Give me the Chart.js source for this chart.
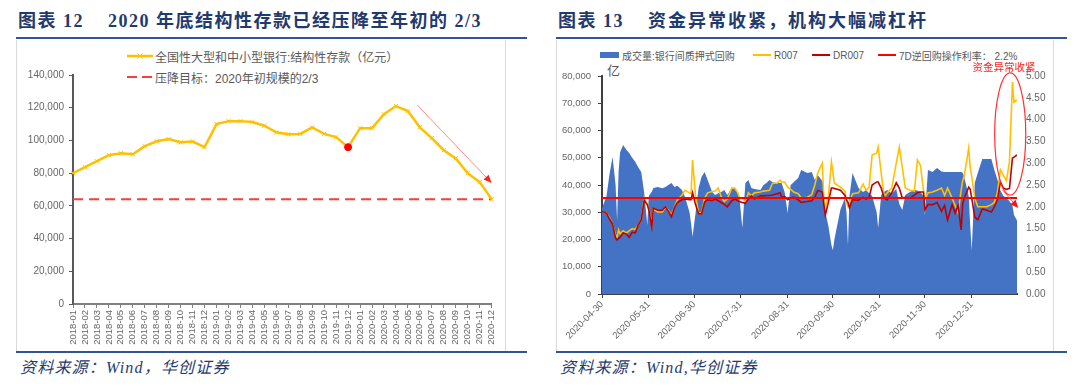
<!DOCTYPE html>
<html>
<head>
<meta charset="utf-8">
<script src="https://cdn.jsdelivr.net/npm/chart.js@4.4.0/dist/chart.umd.min.js"></script>
<style>
  body { margin: 0; background: #fff; width: 1080px; height: 386px; position: relative; overflow: hidden;
         font-family: "Liberation Sans", "Noto Sans CJK SC", sans-serif; }
  .title { position: absolute; top: 10px; line-height: 22px; font: bold 18px/22px "Liberation Serif", "Noto Sans CJK SC", serif;
           color: #1F3A6E; letter-spacing: 1.5px; white-space: nowrap; }
  .rule { position: absolute; height: 2px; background: #2F5597; }
  .box { position: absolute; top: 40px; height: 311px; border-left: 1px solid #D9D9D9; border-right: 1px solid #D9D9D9; }
  .src { position: absolute; top: 358px; font: italic 16px/20px "Liberation Serif", "Noto Sans CJK SC", serif;
         color: #1F3A6E; letter-spacing: 1.2px; white-space: nowrap; }
  .lg { position: absolute; color: #595959; white-space: nowrap; display: flex; align-items: center; }
  .lg svg { margin-right: 2px; }
  canvas { position: absolute; }
</style>
</head>
<body>

<div class="title" style="left:18px">图表 12</div>
<div class="title" style="left:108px">2020 年底结构性存款已经压降至年初的 2/3</div>
<div class="rule" style="left:16px; top:37px; width:511px"></div>
<div class="box" style="left:16px; width:488px"></div>
<div class="rule" style="left:16px; top:351px; width:511px"></div>
<div class="src" style="left:20px">资料来源：Wind，华创证券</div>

<div class="title" style="left:558px">图表 13</div>
<div class="title" style="left:648px; letter-spacing:2px">资金异常收紧，机构大幅减杠杆</div>
<div class="rule" style="left:556px; top:37px; width:511px"></div>
<div class="box" style="left:556px; width:496px"></div>
<div class="rule" style="left:556px; top:351px; width:511px"></div>
<div class="src" style="left:560px">资料来源：Wind,华创证券</div>

<!-- legend, left chart -->
<div class="lg" style="left:127px; top:48px; font-size:12px; height:16px">
  <svg width="26" height="10"><line x1="0" y1="5" x2="26" y2="5" stroke="#FFC000" stroke-width="2.5"/>
    <path d="M10.5 2.5 L15.5 7.5 M15.5 2.5 L10.5 7.5" stroke="#FFC000" stroke-width="1"/></svg>
  全国性大型和中小型银行:结构性存款（亿元）
</div>
<div class="lg" style="left:127px; top:69px; font-size:12px; height:16px">
  <svg width="26" height="10"><line x1="0" y1="5" x2="26" y2="5" stroke="#FF3B3B" stroke-width="2" stroke-dasharray="10 5"/></svg>
  压降目标：2020年初规模的2/3
</div>

<!-- legend, right chart -->
<div class="lg" style="left:600px; top:48px; font-size:10px; height:14px">
  <svg width="20" height="8"><rect x="0" y="1" width="19" height="6" fill="#4472C4"/></svg>成交量:银行间质押式回购
</div>
<div class="lg" style="left:753px; top:48px; font-size:10px; height:14px">
  <svg width="19" height="8"><line x1="0" y1="4" x2="18" y2="4" stroke="#FFC000" stroke-width="2"/></svg>R007
</div>
<div class="lg" style="left:812px; top:48px; font-size:10px; height:14px">
  <svg width="19" height="8"><line x1="0" y1="4" x2="18" y2="4" stroke="#C00000" stroke-width="2"/></svg>DR007
</div>
<div class="lg" style="left:878px; top:48px; font-size:10px; height:14px">
  <svg width="19" height="8"><line x1="0" y1="4" x2="18" y2="4" stroke="#FF0000" stroke-width="2"/></svg>7D逆回购操作利率：&nbsp;2.2%
</div>
<div class="lg" style="left:607px; top:60px; font-size:13px">亿</div>

<canvas id="deposit" width="489" height="310" style="left:16px; top:40px"></canvas>
<canvas id="repo" width="497" height="310" style="left:556px; top:40px"></canvas>

<script>
// ---------- chart 12: structured deposits ----------
const months = [
  '2018-01','2018-02','2018-03','2018-04','2018-05','2018-06','2018-07','2018-08','2018-09','2018-10','2018-11','2018-12',
  '2019-01','2019-02','2019-03','2019-04','2019-05','2019-06','2019-07','2019-08','2019-09','2019-10','2019-11','2019-12',
  '2020-01','2020-02','2020-03','2020-04','2020-05','2020-06','2020-07','2020-08','2020-09','2020-10','2020-11','2020-12'
];
const deposits = [
  80000, 83700, 87300, 91000, 92200, 91600, 96500, 99500, 100800, 98900, 99300, 95900,
  110000, 111800, 111800, 111200, 109000, 105000, 103800, 104000, 108000, 104000, 102000, 95900,
  107500, 107500, 116000, 121000, 118000, 108000, 101400, 94000, 89000, 80000, 74500, 64100
];
const targetLevel = 64000;       // 2/3 of the start-of-2020 scale
const markedMonth = '2019-12';   // red dot
const trendArrow = { from: [28.8, 121500], to: [35, 74000] };   // category index, value

// ---------- chart 13: repo volume & rates ----------
const dates = [
  '2020-04-30','2020-05-03','2020-05-05','2020-05-07','2020-05-09','2020-05-10','2020-05-11','2020-05-12','2020-05-14','2020-05-16',
  '2020-05-18','2020-05-20','2020-05-22','2020-05-24','2020-05-26','2020-05-28','2020-05-30','2020-05-31','2020-06-02','2020-06-03',
  '2020-06-06','2020-06-09','2020-06-11','2020-06-13','2020-06-15','2020-06-17','2020-06-19','2020-06-22','2020-06-24','2020-06-27',
  '2020-06-28','2020-06-29','2020-07-01','2020-07-03','2020-07-05','2020-07-07','2020-07-09','2020-07-12','2020-07-14','2020-07-16',
  '2020-07-18','2020-07-20','2020-07-22','2020-07-25','2020-07-27','2020-07-29','2020-07-30','2020-08-01','2020-08-03','2020-08-05',
  '2020-08-07','2020-08-09','2020-08-13','2020-08-15','2020-08-17','2020-08-19','2020-08-21','2020-08-24','2020-08-26','2020-08-27',
  '2020-08-29','2020-08-31','2020-09-02','2020-09-04','2020-09-07','2020-09-09','2020-09-13','2020-09-16','2020-09-18','2020-09-20',
  '2020-09-23','2020-09-24','2020-09-25','2020-09-27','2020-09-29','2020-09-30','2020-10-01','2020-10-05','2020-10-08','2020-10-09',
  '2020-10-10','2020-10-11','2020-10-13','2020-10-17','2020-10-20','2020-10-22','2020-10-24','2020-10-26','2020-10-29','2020-10-30',
  '2020-11-01','2020-11-03','2020-11-05','2020-11-08','2020-11-11','2020-11-13','2020-11-15','2020-11-17','2020-11-20','2020-11-23',
  '2020-11-25','2020-11-27','2020-11-29','2020-11-30','2020-12-02','2020-12-05','2020-12-08','2020-12-11','2020-12-13','2020-12-15',
  '2020-12-18','2020-12-20','2020-12-22','2020-12-24','2020-12-25','2020-12-26','2020-12-29','2020-12-30','2020-12-31','2021-01-02',
  '2021-01-04','2021-01-07','2021-01-10','2021-01-13','2021-01-15','2021-01-17','2021-01-19','2021-01-21','2021-01-23','2021-01-25',
  '2021-01-27','2021-01-28','2021-01-30'
];
const volume = [
  31500, 36000, 44000, 50300, 40000, 27000, 45000, 52000, 54700, 53000,
  51700, 50000, 48500, 46500, 44800, 37000, 25300, 36000, 37500, 38900,
  39300, 38800, 39300, 40000, 40700, 39300, 39700, 38200, 35600, 30000,
  26000, 21000, 29700, 38900, 43000, 44800, 41800, 37400, 36300, 37000,
  37400, 38200, 36300, 38900, 38500, 37000, 35600, 24200, 40700, 41800,
  38900, 38500, 38200, 40000, 40700, 41800, 41000, 40700, 40700, 40700,
  37400, 29700, 40000, 41000, 42600, 45500, 44400, 44800, 41800, 43700,
  41500, 38000, 30000, 25000, 18000, 16100, 20000, 31000, 35200, 30000,
  18000, 36000, 44400, 38900, 37400, 38200, 37000, 36000, 30000, 24200,
  36300, 37500, 38200, 37000, 38500, 33000, 30800, 36300, 37400, 38200,
  38000, 37400, 36000, 29000, 45500, 44800, 46200, 45000, 44800, 44800,
  44800, 44800, 44800, 44800, 44500, 43000, 36000, 25000, 16100, 40700,
  44400, 49500, 49500, 49500, 45500, 42000, 38000, 36000, 35200, 34000,
  32500, 29000, 27000
];
const r007 = [
  1.90, 1.85, 1.75, 1.60, 1.35, 1.30, 1.47, 1.38, 1.45, 1.40,
  1.45, 1.50, 1.48, 1.58, 1.70, 2.20, 2.05, 1.93, 1.60, 1.95,
  1.88, 1.88, 2.00, 1.92, 1.81, 2.00, 2.16, 2.27, 2.38, 2.32,
  2.30, 3.07, 2.25, 1.86, 1.86, 2.20, 2.32, 2.35, 2.36, 2.43,
  2.23, 2.12, 2.18, 2.43, 2.43, 2.32, 2.22, 2.20, 2.10, 2.32,
  2.25, 2.32, 2.34, 2.36, 2.37, 2.38, 2.54, 2.54, 2.61, 2.57,
  2.57, 2.45, 2.40, 2.34, 2.30, 2.20, 2.22, 2.28, 2.50, 2.78,
  3.00, 2.20, 1.98, 2.22, 3.03, 2.80, 2.54, 2.45, 2.36, 2.10,
  2.00, 2.10, 2.30, 2.32, 2.52, 2.38, 2.45, 3.19, 3.23, 3.37,
  2.78, 2.23, 2.32, 2.43, 3.00, 3.37, 2.90, 2.43, 2.38, 2.36,
  3.07, 2.95, 2.38, 2.16, 2.32, 2.34, 2.38, 2.43, 2.26, 2.43,
  2.20, 2.03, 1.86, 2.38, 2.60, 2.70, 3.35, 2.90, 2.70, 2.20,
  2.00, 2.00, 2.00, 2.05, 2.10, 2.32, 2.85, 2.72, 2.60, 3.03,
  4.86, 4.40, 4.45
];
const dr007 = [
  1.90, 1.85, 1.72, 1.60, 1.28, 1.24, 1.28, 1.30, 1.40, 1.38,
  1.30, 1.42, 1.40, 1.58, 1.70, 2.15, 2.05, 1.93, 1.54, 1.97,
  1.92, 1.92, 2.00, 1.90, 1.77, 1.98, 2.10, 2.16, 2.18, 2.16,
  2.16, 2.32, 2.05, 1.84, 1.84, 2.11, 2.16, 2.14, 2.18, 2.14,
  2.10, 2.06, 2.00, 2.14, 2.18, 2.14, 2.12, 2.10, 2.08, 2.18,
  2.25, 2.18, 2.25, 2.25, 2.26, 2.26, 2.27, 2.30, 2.32, 2.22,
  2.24, 2.16, 2.20, 2.22, 2.16, 2.10, 2.12, 2.14, 2.22, 2.38,
  2.34, 2.05, 1.81, 2.10, 2.43, 2.43, 2.42, 2.38, 2.26, 2.16,
  2.10, 1.98, 2.16, 2.15, 2.22, 2.18, 2.22, 2.50, 2.57, 2.57,
  2.43, 2.20, 2.16, 2.32, 2.55, 2.43, 2.20, 2.22, 2.20, 2.27,
  2.32, 2.34, 2.34, 1.93, 2.05, 2.05, 2.10, 1.90, 2.03, 1.70,
  2.05, 1.86, 2.03, 1.47, 2.07, 2.20, 2.45, 2.40, 2.20, 1.77,
  1.70, 1.95, 1.92, 1.88, 2.00, 2.16, 2.57, 2.43, 2.40, 2.42,
  3.12, 3.14, 3.19
];
const repoRate = 2.2;   // 7D reverse repo rate, %
const tickDates = ['2020-04-30','2020-05-31','2020-06-30','2020-07-31','2020-08-31','2020-09-30','2020-10-31','2020-11-30','2020-12-31'];
const lastDay = 275;
// ellipse around the late-January spike (day offset, rate) and the note arrow
const squeeze = { day: 270.5, rate: 3.67, dDays: 10.3, dRate: 1.40, label: '资金异常收紧', labelAt: [266.4, 5.21] };
const squeezeArrow = { from: [265.3, 2.39], to: [275.8, 1.97] };

// ---------- helpers ----------
Chart.defaults.font.family = '"Liberation Sans", "Noto Sans CJK SC", sans-serif';
Chart.defaults.color = '#666';

const dayOf = d => Math.round((Date.parse(d) - Date.parse(dates[0])) / 86400000);
const fmt = v => v.toLocaleString('en-US');

function drawArrow(ctx, x0, y0, x1, y1, lineColor, headColor, lw) {
  const a = Math.atan2(y1 - y0, x1 - x0), L = 8, W = 3.5;
  const bx = x1 - L * Math.cos(a), by = y1 - L * Math.sin(a);
  ctx.save();
  ctx.strokeStyle = lineColor;
  ctx.lineWidth = lw;
  ctx.beginPath(); ctx.moveTo(x0, y0); ctx.lineTo(bx, by); ctx.stroke();
  ctx.fillStyle = headColor;
  ctx.beginPath();
  ctx.moveTo(x1, y1);
  ctx.lineTo(bx + W * Math.sin(a), by - W * Math.cos(a));
  ctx.lineTo(bx - W * Math.sin(a), by + W * Math.cos(a));
  ctx.closePath(); ctx.fill();
  ctx.restore();
}

const trendArrowPlugin = {
  id: 'trendArrow',
  afterDatasetsDraw(chart) {
    const { ctx, scales: { x, y } } = chart;
    drawArrow(ctx,
      x.getPixelForValue(trendArrow.from[0]), y.getPixelForValue(trendArrow.from[1]),
      x.getPixelForValue(trendArrow.to[0]), y.getPixelForValue(trendArrow.to[1]),
      'rgba(255,120,120,0.85)', '#FF2020', 1);
  }
};

const squeezePlugin = {
  id: 'squeeze',
  afterDatasetsDraw(chart) {
    const { ctx, scales: { x, y1 } } = chart;
    const cx = x.getPixelForValue(squeeze.day), cy = y1.getPixelForValue(squeeze.rate);
    const rx = Math.abs(x.getPixelForValue(squeeze.day + squeeze.dDays) - cx);
    const ry = Math.abs(y1.getPixelForValue(squeeze.rate + squeeze.dRate) - cy);
    ctx.save();
    ctx.strokeStyle = '#FF3030';
    ctx.lineWidth = 1.2;
    ctx.beginPath(); ctx.ellipse(cx, cy, rx, ry, 0, 0, Math.PI * 2); ctx.stroke();
    ctx.fillStyle = '#FF2020';
    ctx.font = '10.5px "Noto Sans CJK SC", sans-serif';
    ctx.textAlign = 'center'; ctx.textBaseline = 'middle';
    ctx.fillText(squeeze.label, x.getPixelForValue(squeeze.labelAt[0]), y1.getPixelForValue(squeeze.labelAt[1]));
    ctx.restore();
    drawArrow(ctx,
      x.getPixelForValue(squeezeArrow.from[0]), y1.getPixelForValue(squeezeArrow.from[1]),
      x.getPixelForValue(squeezeArrow.to[0]), y1.getPixelForValue(squeezeArrow.to[1]),
      'rgba(255,80,80,0.9)', '#FF1010', 1);
  }
};

// ---------- chart 12 ----------
new Chart(document.getElementById('deposit'), {
  type: 'line',
  data: {
    labels: months,
    datasets: [
      {
        data: months.map(m => (m === markedMonth ? deposits[months.indexOf(m)] : null)),
        showLine: false, pointStyle: 'circle', pointRadius: 3.5,
        pointBackgroundColor: '#FF0000', pointBorderColor: '#FF0000', order: 0
      },
      {
        label: '全国性大型和中小型银行:结构性存款（亿元）',
        data: deposits,
        borderColor: '#FFC000', borderWidth: 2.5, tension: 0,
        pointStyle: 'crossRot', pointRadius: 3, pointBorderColor: '#FFC000', pointBorderWidth: 1, order: 1
      },
      {
        label: '压降目标：2020年初规模的2/3',
        data: months.map(() => targetLevel),
        borderColor: '#FF3B3B', borderWidth: 2, borderDash: [10, 6], pointRadius: 0, order: 2
      }
    ]
  },
  options: {
    responsive: false, animation: false,
    layout: { padding: { top: 35, right: 12, left: 0, bottom: 0 } },
    plugins: { legend: { display: false }, tooltip: { enabled: false } },
    scales: {
      x: {
        offset: false,
        ticks: { autoSkip: false, minRotation: 90, maxRotation: 90, font: { size: 9.5 }, padding: 2 },
        grid: { drawOnChartArea: false, drawTicks: true, tickLength: 4, color: '#808080' },
        border: { color: '#808080', width: 2 },
        afterFit: s => { s.height = 46; }
      },
      y: {
        min: 0, max: 140000,
        ticks: { stepSize: 20000, callback: v => fmt(v), font: { size: 10 }, padding: 5 },
        grid: { drawOnChartArea: false, drawTicks: true, tickLength: 4, color: '#595959' },
        border: { color: '#595959', width: 2 },
        afterFit: s => { s.width = 57; }
      }
    }
  },
  plugins: [trendArrowPlugin]
});

// ---------- chart 13 ----------
const pts = arr => dates.map((d, i) => ({ x: dayOf(d), y: arr[i] }));

new Chart(document.getElementById('repo'), {
  type: 'line',
  data: {
    datasets: [
      {
        label: '7D逆回购操作利率：2.2%',
        data: [{ x: 0, y: repoRate }, { x: lastDay, y: repoRate }],
        yAxisID: 'y1', borderColor: '#FF0000', borderWidth: 2, pointRadius: 0, order: 0
      },
      {
        label: 'DR007', data: pts(dr007), yAxisID: 'y1',
        borderColor: '#C00000', borderWidth: 1.6, pointRadius: 0, tension: 0, order: 1
      },
      {
        label: 'R007', data: pts(r007), yAxisID: 'y1',
        borderColor: '#FFC000', borderWidth: 1.6, pointRadius: 0, tension: 0, order: 2
      },
      {
        label: '成交量:银行间质押式回购', data: pts(volume), yAxisID: 'y',
        borderWidth: 0, backgroundColor: '#4472C4', fill: 'origin', pointRadius: 0, tension: 0, order: 3
      }
    ]
  },
  options: {
    responsive: false, animation: false,
    layout: { padding: { top: 36, right: 0, left: 0, bottom: 0 } },
    plugins: { legend: { display: false }, tooltip: { enabled: false } },
    scales: {
      x: {
        type: 'linear', min: 0, max: lastDay,
        afterBuildTicks: s => { s.ticks = tickDates.map(d => ({ value: dayOf(d) })); },
        ticks: {
          autoSkip: false, minRotation: 45, maxRotation: 45, font: { size: 9.5 }, padding: 1,
          callback: v => tickDates.find(d => dayOf(d) === v) || ''
        },
        grid: { drawOnChartArea: false, drawTicks: true, tickLength: 4, color: '#404040' },
        border: { color: '#404040', width: 2 },
        afterFit: s => { s.height = 56; }
      },
      y: {
        position: 'left', min: 0, max: 80000,
        ticks: { stepSize: 10000, callback: v => fmt(v), font: { size: 9.5 }, padding: 7 },
        grid: { drawOnChartArea: false, drawTicks: true, tickLength: 4, color: '#404040' },
        border: { color: '#404040', width: 2 },
        afterFit: s => { s.width = 46; }
      },
      y1: {
        position: 'right', min: 0, max: 5,
        ticks: { stepSize: 0.5, callback: v => v.toFixed(2), font: { size: 10 }, padding: 9 },
        grid: { display: false, drawTicks: false },
        border: { display: false },
        afterFit: s => { s.width = 36; }
      }
    }
  },
  plugins: [squeezePlugin]
});
</script>
</body>
</html>
